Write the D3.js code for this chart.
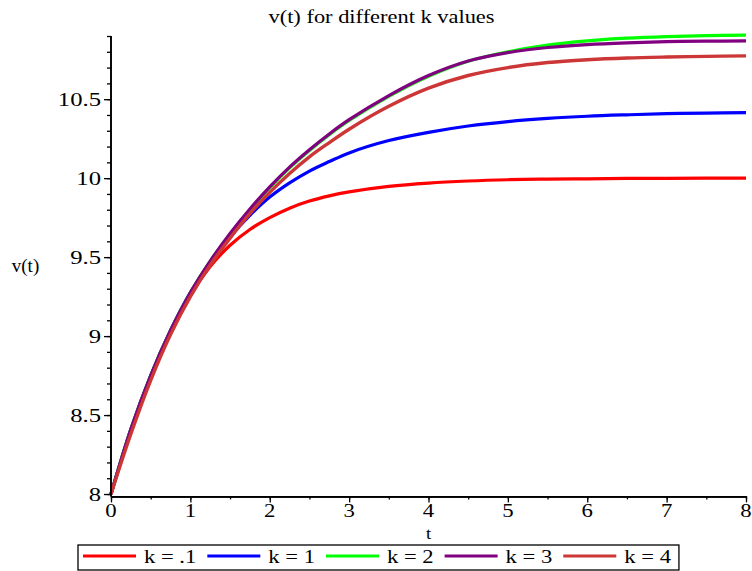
<!DOCTYPE html>
<html>
<head>
<meta charset="utf-8">
<script src="https://cdn.jsdelivr.net/npm/d3@7/dist/d3.min.js"></script>
<style>
  html, body { margin: 0; padding: 0; background: #fff; }
  svg { display: block; }
</style>
</head>
<body>
<svg id="chart" width="752" height="571"></svg>
<script>
// Sample times (t) shared by all series
const tValues = [0, 0.25, 0.5, 0.75, 1, 1.25, 1.5, 1.75, 2, 2.25, 2.5, 2.75, 3,
                 3.5, 4, 4.5, 5, 5.5, 6, 6.5, 7, 7.5, 8];

// v(t) for each k
const vK01 = [8.00, 8.40, 8.74, 9.02, 9.26, 9.44, 9.575, 9.675, 9.75, 9.81, 9.855, 9.888, 9.913,
              9.948, 9.969, 9.982, 9.99, 9.994, 9.996, 9.998, 9.999, 10.0, 10.0];
const vK1  = [8.00, 8.41, 8.75, 9.035, 9.275, 9.47, 9.63, 9.765, 9.88, 9.97, 10.045, 10.105, 10.16,
              10.238, 10.29, 10.33, 10.358, 10.378, 10.392, 10.401, 10.408, 10.412, 10.415];
const vK2  = [8.00, 8.41, 8.75, 9.035, 9.275, 9.475, 9.645, 9.80, 9.94, 10.065, 10.175, 10.275, 10.365,
              10.518, 10.645, 10.74, 10.80, 10.843, 10.869, 10.886, 10.896, 10.902, 10.905];
const vK3  = [8.00, 8.41, 8.75, 9.035, 9.275, 9.475, 9.65, 9.805, 9.945, 10.07, 10.18, 10.28, 10.37,
              10.523, 10.65, 10.742, 10.795, 10.827, 10.846, 10.857, 10.864, 10.867, 10.869];
const vK4  = [8.00, 8.38, 8.72, 9.01, 9.25, 9.45, 9.62, 9.775, 9.91, 10.03, 10.135, 10.225, 10.31,
              10.455, 10.57, 10.65, 10.70, 10.732, 10.75, 10.761, 10.767, 10.771, 10.774];

const seriesLabels = ["k = .1", "k = 1", "k = 2", "k = 3", "k = 4"];
const seriesColors = ["#ff0000", "#0000ff", "#00ff00", "#800080", "#cd3636"];
const seriesValues = [vK01, vK1, vK2, vK3, vK4];

const xMajorTicks = [0, 1, 2, 3, 4, 5, 6, 7, 8];
const yMajorTicks = [8, 8.5, 9, 9.5, 10, 10.5];
const yTickLabels = ["8", "8.5", "9", "9.5", "10", "10.5"];

const titleText = "v(t) for different k values";
const xLabel = "t";
const yLabel = "v(t)";

const svg = d3.select("#chart");
const SERIF = '"Liberation Serif", "Times New Roman", Times, serif';

const x = d3.scaleLinear().domain([0, 8]).range([111, 746]);
const y = d3.scaleLinear().domain([7.985, 10.9]).range([496.4, 36]);

// Serif text, optionally widened horizontally
function serifText(g, str, px, py, anchor, size, widen) {
  return g.append("text")
    .attr("transform", `translate(${px},${py}) scale(${widen},1)`)
    .attr("text-anchor", anchor)
    .style("font-family", SERIF)
    .style("font-size", size + "px")
    .style("fill", "#000")
    .text(str);
}

// ---- Curves ----
const line = d3.line()
  .x((d, i) => x(tValues[i]))
  .y(d => y(d))
  .curve(d3.curveCatmullRom.alpha(0.5));

const curves = svg.append("g").attr("fill", "none").attr("stroke-linejoin", "round");
seriesValues.forEach((vals, i) => {
  curves.append("path")
    .attr("d", line(vals))
    .attr("stroke", seriesColors[i])
    .attr("stroke-width", i === 4 ? 3.4 : 3.2);
});

// ---- Axes ----
const minorY = d3.range(80, 110).map(v => v / 10);
const minorX = d3.range(0, 17).map(v => v / 2);

const yAxisG = svg.append("g").attr("transform", `translate(${x(0)},0)`);
yAxisG.call(d3.axisLeft(y).tickValues(minorY).tickSize(4).tickSizeOuter(0).tickFormat(""));
yAxisG.call(g => g.append("g").call(d3.axisLeft(y).tickValues(yMajorTicks).tickSize(7).tickSizeOuter(0).tickFormat("")));
yAxisG.selectAll("path.domain").attr("d", `M0,${y.range()[0]}V${y.range()[1]}`);

const xAxisG = svg.append("g").attr("transform", `translate(0,${y(7.985)})`);
xAxisG.call(d3.axisBottom(x).tickValues(minorX).tickSize(3).tickSizeOuter(0).tickFormat(""));
xAxisG.call(g => g.append("g").call(d3.axisBottom(x).tickValues(xMajorTicks).tickSize(6).tickSizeOuter(0).tickFormat("")));

svg.selectAll(".domain").attr("stroke", "#000").attr("stroke-width", 1.6);
svg.selectAll(".tick line").attr("stroke", "#000").attr("stroke-width", 1.3);

// Tick labels
const labels = svg.append("g");
yMajorTicks.forEach((v, i) => {
  serifText(labels, yTickLabels[i], 101, y(v) + 6.5, "end", 19, 1.3);
});
xMajorTicks.forEach(v => {
  serifText(labels, String(v), x(v), 517, "middle", 19, 1.2);
});

// Axis titles and chart title
serifText(svg, xLabel, (x(0) + x(8)) / 2, 539, "middle", 17, 1.1);
serifText(svg, yLabel, 25.5, 272, "middle", 19, 1.0);
serifText(svg, titleText, 381.5, 23, "middle", 19, 1.18);

// ---- Legend ----
const legend = svg.append("g");
const legendBox = legend.append("rect")
  .attr("x", 78).attr("y", 545).attr("width", 601).attr("height", 25)
  .attr("fill", "none").attr("stroke", "#000").attr("stroke-width", 1.3);

const LEGEND_WIDEN = 1.19;
let cursor = 83;
const legendLineY = 556, legendTextY = 563;
seriesLabels.forEach((lab, i) => {
  legend.append("line")
    .attr("x1", cursor).attr("x2", cursor + 53)
    .attr("y1", legendLineY).attr("y2", legendLineY)
    .attr("stroke", seriesColors[i]).attr("stroke-width", 3.2);
  cursor += 61;
  const t = serifText(legend, lab, cursor, legendTextY, "start", 19, LEGEND_WIDEN);
  cursor += t.node().getComputedTextLength() * LEGEND_WIDEN + 11;
});
legendBox.attr("width", cursor - 78 - 3);
</script>
</body>
</html>
